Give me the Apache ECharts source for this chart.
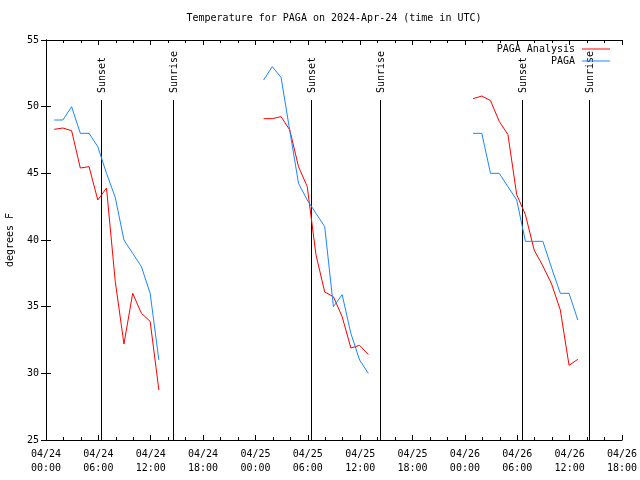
<!DOCTYPE html>
<html>
<head>
<meta charset="utf-8">
<script src="https://cdn.jsdelivr.net/npm/echarts@6/dist/echarts.min.js"></script>
<style>html,body{margin:0;padding:0;background:#fff}#c{width:640px;height:480px}</style>
</head>
<body>
<div id="c"></div>
<script>
// ---- data ----
const days = ['04-24', '04-25', '04-26'];
const obsHours = ['00:56','01:56','02:56','03:56','04:56','05:56','06:56','07:56','08:56','09:56','10:56','11:56','12:56'];
const analysisDay1 = [48.3, 48.4, 48.2, 45.4, 45.5, 43.0, 43.9, 36.9, 32.2, 36.0, 34.5, 33.9, 28.75];
const analysisDay2 = [49.1, 49.1, 49.25, 48.25, 45.5, 44.0, 38.9, 36.1, 35.75, 34.25, 31.9, 32.1, 31.4];
const analysisDay3 = [50.6, 50.8, 50.45, 48.9, 47.9, 43.4, 41.9, 39.25, 38.05, 36.7, 34.75, 30.6, 31.05];
const obsDay1 = [49, 49, 50, 48, 48, 47, 45, 43.2, 40, 39, 38, 36, 31];
const obsDay2 = [52, 53, 52.2, 48.2, 44.25, 43, 42, 41, 35, 35.9, 33, 31, 30];
const obsDay3 = [48, 48, 45, 45, 44, 43, 39.9, 39.9, 39.9, 37.9, 36, 36, 34];
const sunsetTimes = ['04-24 06:20', '04-25 06:22', '04-26 06:31'];
const sunriseTimes = ['04-24 14:31', '04-25 14:19', '04-26 14:15'];
const xTickLabels = ['04/24\n00:00','04/24\n06:00','04/24\n12:00','04/24\n18:00',
                     '04/25\n00:00','04/25\n06:00','04/25\n12:00','04/25\n18:00',
                     '04/26\n00:00','04/26\n06:00','04/26\n12:00','04/26\n18:00'];
const yTicks = [25, 30, 35, 40, 45, 50, 55];

// ---- helpers ----
function toHours(s) { // 'MM-DD HH:MM' -> hours since 04-24 00:00 UTC
  const [md, hm] = s.split(' ');
  const d = parseInt(md.split('-')[1], 10);
  const [h, m] = hm.split(':').map(Number);
  return (d - 24) * 24 + h + m / 60;
}
function pairs(day, vals) {
  return vals.map((v, i) => [toHours(day + ' ' + obsHours[i]), v]);
}
const FONT = 'DejaVu Sans Mono';
const RED = '#ff0000', BLUE = '#1a86ff';
const analysis = [analysisDay1, analysisDay2, analysisDay3];
const obs = [obsDay1, obsDay2, obsDay3];

const series = [];
days.forEach((d, k) => {
  series.push({name: 'PAGA Analysis', type: 'line', data: pairs(d, analysis[k]),
    showSymbol: false, symbol: 'none', lineStyle: {color: RED, width: 1}, itemStyle: {color: RED},
    animation: false, z: 3});
});
days.forEach((d, k) => {
  series.push({name: 'PAGA', type: 'line', data: pairs(d, obs[k]),
    showSymbol: false, symbol: 'none', lineStyle: {color: BLUE, width: 1}, itemStyle: {color: BLUE},
    animation: false, z: 4});
});
const sunData = sunsetTimes.map(t => [toHours(t), 'Sunset'])
  .concat(sunriseTimes.map(t => [toHours(t), 'Sunrise']));
series.push({
  type: 'custom', name: 'sun', data: sunData, animation: false, silent: true, z: 2,
  encode: {x: 0},
  renderItem: function (params, api) {
    const t = api.value(0);
    const label = sunData[params.dataIndex][1];
    const pb = api.coord([t, 25]);
    const pt = api.coord([t, 50.5]);
    const x = Math.round(pb[0]) + 0.5;
    return {type: 'group', children: [
      {type: 'line', shape: {x1: x, y1: pb[1], x2: x, y2: pt[1]}, style: {stroke: '#000', lineWidth: 1}},
      {type: 'text', x: x + 1, y: pt[1] - 7, rotation: Math.PI / 2,
       style: {text: label, font: '10px ' + FONT, fill: '#000', align: 'left', verticalAlign: 'middle'}}
    ]};
  }
});

const axisCommon = {
  axisLine: {show: true, lineStyle: {color: '#000', width: 1}},
  splitLine: {show: false},
};
const option = {
  backgroundColor: '#fff',
  animation: false,
  title: {text: 'Temperature for PAGA on 2024-Apr-24 (time in UTC)', left: 334, top: 13, padding: 0,
    textAlign: 'center',
    textStyle: {fontFamily: FONT, fontSize: 10, fontWeight: 'normal', color: '#000'}},
  legend: {data: ['PAGA Analysis', 'PAGA'], orient: 'vertical', align: 'right', right: 30, top: 44,
    padding: 0, itemGap: 2, itemWidth: 28, itemHeight: 1, icon: 'rect', selectedMode: false,
    textStyle: {fontFamily: FONT, fontSize: 10, color: '#000', padding: [0, 2, 0, 0]}},
  grid: {left: 46, right: 18, top: 40, bottom: 40, containLabel: false, outerBoundsMode: 'none'},
  xAxis: [
    Object.assign({type: 'value', min: 0, max: 66, interval: 6, position: 'bottom',
      axisTick: {inside: true, length: 5, lineStyle: {color: '#000'}},
      minorTick: {show: true, splitNumber: 3, length: 3, lineStyle: {color: '#000'}},
      axisLabel: {color: '#000', fontFamily: FONT, fontSize: 10, lineHeight: 14, margin: 7,
        showMinLabel: true, showMaxLabel: true,
        formatter: v => xTickLabels[Math.round(v / 6)] || ''}}, axisCommon),
    Object.assign({type: 'value', min: 0, max: 66, interval: 6, position: 'top',
      axisTick: {inside: true, length: 5, lineStyle: {color: '#000'}},
      minorTick: {show: true, splitNumber: 3, length: 3, lineStyle: {color: '#000'}},
      axisLabel: {show: false}}, axisCommon)
  ],
  yAxis: [
    Object.assign({type: 'value', min: yTicks[0], max: yTicks[yTicks.length - 1], interval: 5, position: 'left',
      name: 'degrees F', nameLocation: 'middle', nameGap: 31, nameRotate: 90,
      nameTextStyle: {fontFamily: FONT, fontSize: 10, color: '#000'},
      axisTick: {inside: true, length: 5, lineStyle: {color: '#000'}},
      axisLabel: {color: '#000', fontFamily: FONT, fontSize: 10, margin: 7}}, axisCommon),
    Object.assign({type: 'value', min: yTicks[0], max: yTicks[yTicks.length - 1], interval: 5, position: 'right',
      axisTick: {inside: true, length: 5, lineStyle: {color: '#000'}},
      axisLabel: {show: false}}, axisCommon)
  ],
  series: series
};
const chart = echarts.init(document.getElementById('c'), null, {renderer: 'canvas'});
chart.setOption(option);
</script>
</body>
</html>
